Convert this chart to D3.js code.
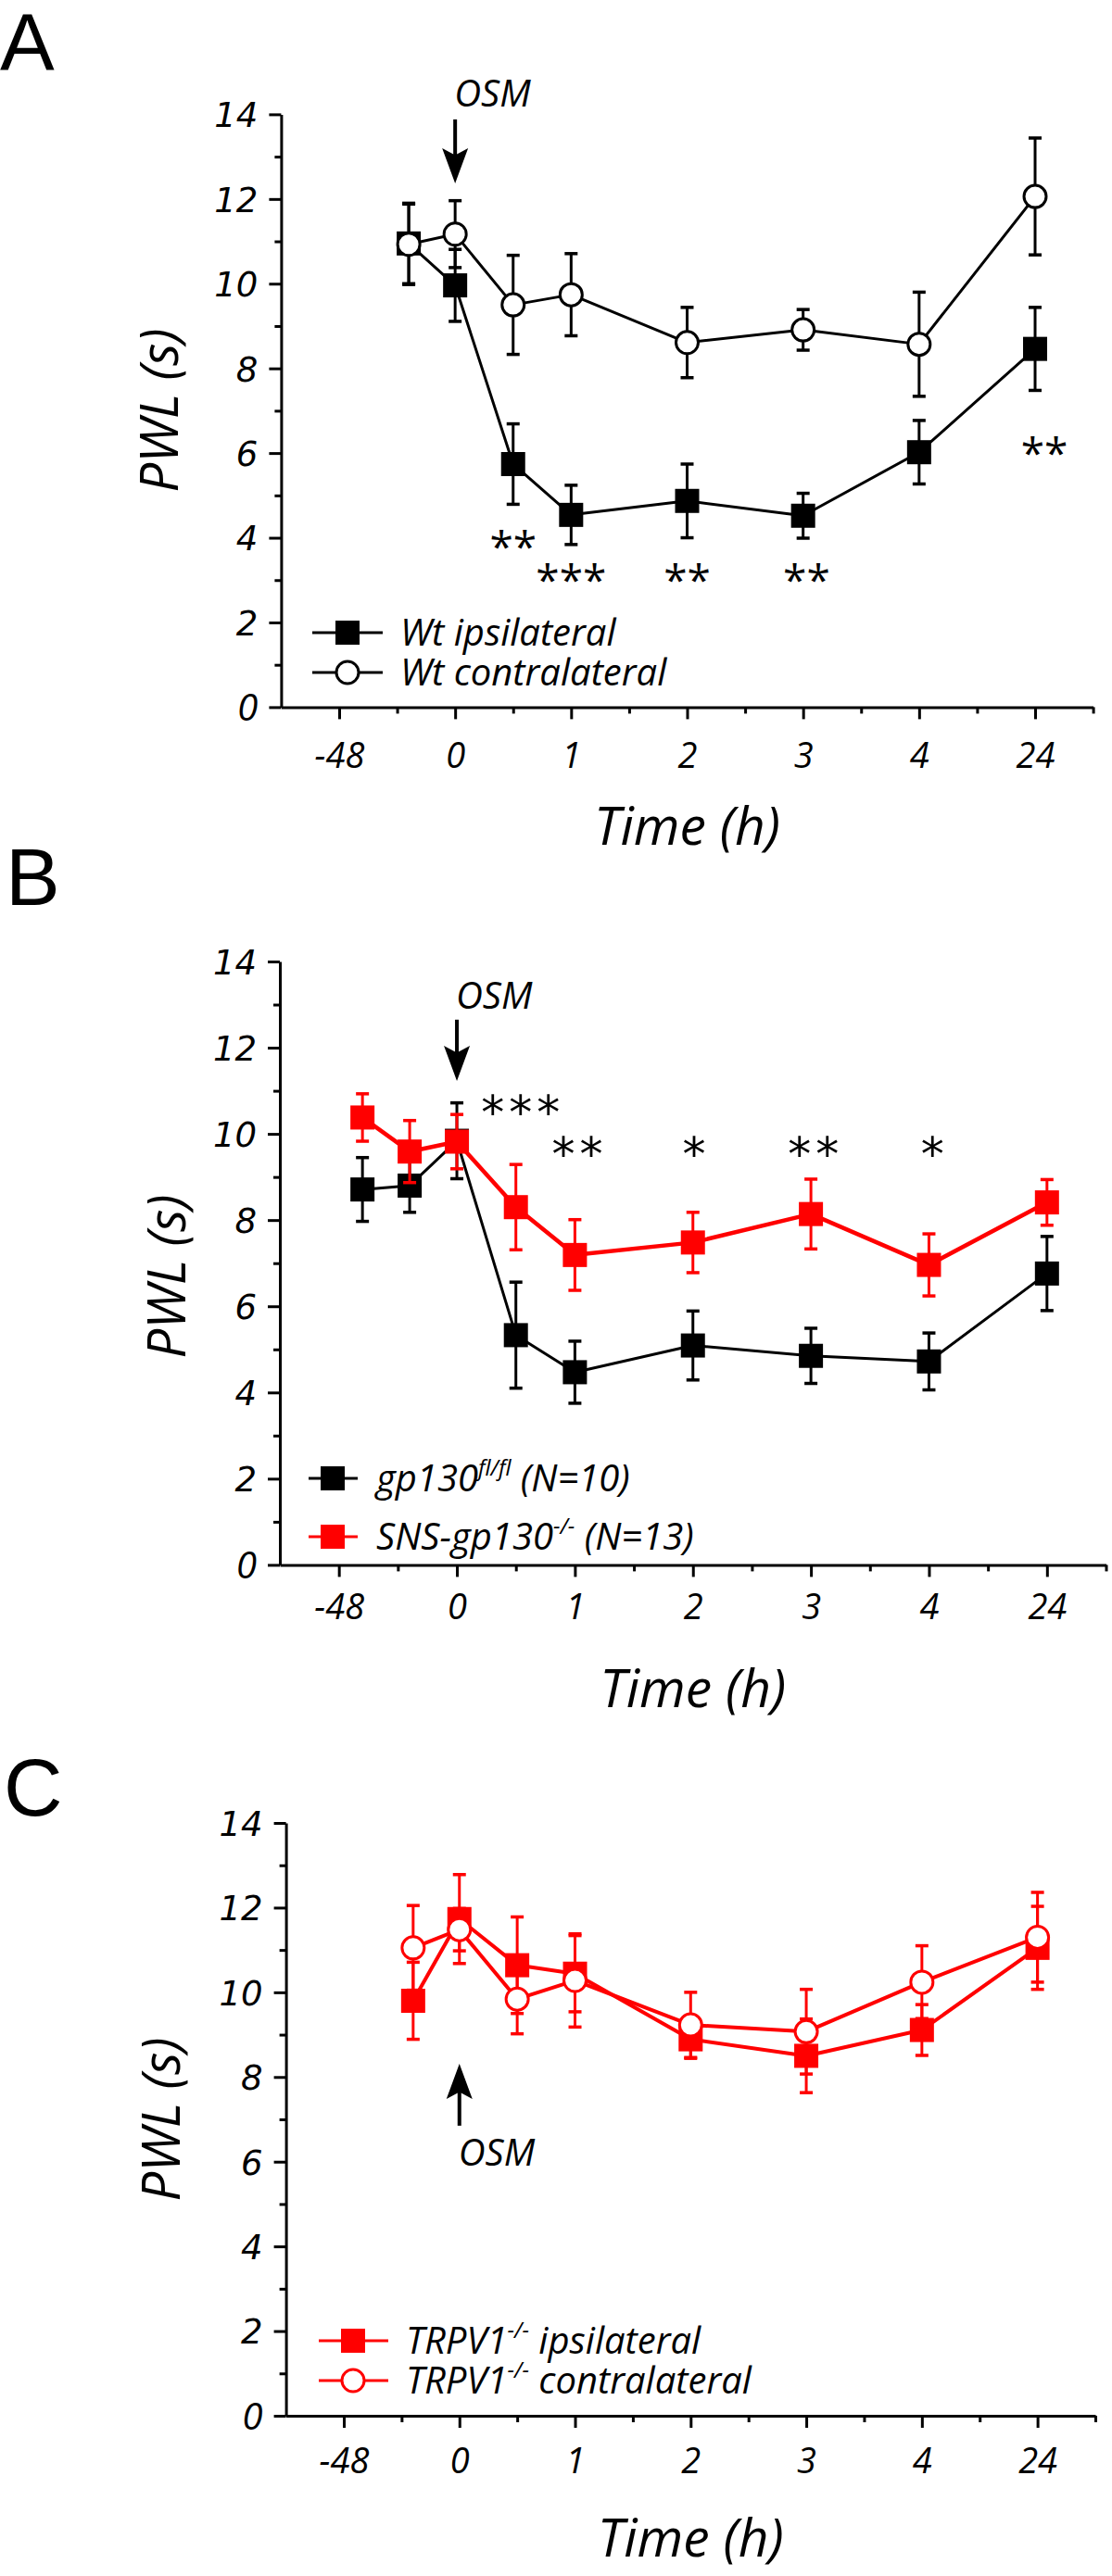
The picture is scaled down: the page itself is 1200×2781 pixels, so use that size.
<!DOCTYPE html>
<html><head><meta charset="utf-8">
<script src="https://cdn.jsdelivr.net/npm/d3@7"></script>
<style>
html,body{margin:0;padding:0;background:#fff;}
svg{display:block;}
</style></head><body>
<svg id="chart" width="1200" height="2781"></svg>
<script>
// ---------- shared axis data ----------
const hourLabels = ["-48", "0", "1", "2", "3", "4", "24"];
const hourTickPos = [-1, 0, 1, 2, 3, 4, 5];
const yTickValues = [0, 2, 4, 6, 8, 10, 12, 14];
const yMinorValues = [1, 3, 5, 7, 9, 11, 13];
const xMinorValues = [-0.5, 0.5, 1.5, 2.5, 3.5, 4.5, 5.5];

// ---------- Panel A ----------
const timeA = [-0.4, 0, 0.5, 1, 2, 3, 4, 5];
const wtIpsiMean = [10.95, 9.96, 5.74, 4.54, 4.87, 4.52, 6.02, 8.46];
const wtIpsiSem = [0.95, 0.85, 0.95, 0.70, 0.87, 0.53, 0.75, 0.98];
const wtContraMean = [10.93, 11.17, 9.50, 9.74, 8.61, 8.91, 8.57, 12.06];
const wtContraSem = [0.95, 0.79, 1.17, 0.97, 0.83, 0.48, 1.23, 1.38];
const starsA = [["**", 0.5, 4.0], ["***", 1, 3.2], ["**", 2, 3.2], ["**", 3.03, 3.2], ["**", 5.08, 6.2]];

// ---------- Panel B ----------
const timeB = [-0.8, -0.4, 0, 0.5, 1, 2, 3, 4, 5];
const gpFlMean = [8.71, 8.80, 9.84, 5.33, 4.47, 5.09, 4.85, 4.72, 6.76];
const gpFlSem = [0.74, 0.62, 0.88, 1.23, 0.72, 0.80, 0.64, 0.66, 0.86];
const snsMean = [10.38, 9.59, 9.82, 8.30, 7.19, 7.48, 8.14, 6.96, 8.41];
const snsSem = [0.55, 0.72, 0.63, 0.99, 0.82, 0.70, 0.81, 0.72, 0.53];
const starsB = [["***", 0.56, 10.74], ["**", 1.04, 9.77], ["*", 2.03, 9.77], ["**", 3.04, 9.77], ["*", 4.05, 9.77]];

// ---------- Panel C ----------
const timeC = [-0.4, 0, 0.5, 1, 2, 3, 4, 5];
const trpIpsiMean = [9.80, 11.73, 10.64, 10.44, 8.89, 8.50, 9.11, 11.05];
const trpIpsiSem = [0.91, 1.05, 1.14, 0.90, 0.45, 0.87, 0.60, 0.98];
const trpContraMean = [11.05, 11.48, 9.84, 10.28, 9.23, 9.07, 10.24, 11.30];
const trpContraSem = [1.00, 0.50, 0.82, 1.10, 0.77, 1.00, 0.86, 1.06];

const RED = "#ff0000";
const BLACK = "#000000";
const TXT = "'Open Sans', 'Liberation Sans', sans-serif";
const svg = d3.select("#chart");

const panels = [
  {
    letter: "A", letterX: 0, letterY: 76,
    left: 303.4, right: 1179.6, top: 123.4, bottom: 763.4,
    series: [
      {time: timeA, mean: wtIpsiMean, sem: wtIpsiSem, color: BLACK, marker: "square", lw: 3},
      {time: timeA, mean: wtContraMean, sem: wtContraSem, color: BLACK, marker: "circle", lw: 3}
    ],
    stars: starsA, starFont: TXT, starSize: 46, starSpacing: 0,
    osm: {tail: 13.88, tip: 12.37, textY: 14.19},
    legend: {rows: [683, 726], x1: 337, x2: 413, mx: 375, tx: 432,
      labels: [[["Wt ipsilateral", false]], [["Wt contralateral", false]]]},
    pwl: [172, 443], timeBase: 912, tickBase: 829
  },
  {
    letter: "B", letterX: 6, letterY: 977,
    left: 302, right: 1193.5, top: 1038, bottom: 1689.4,
    series: [
      {time: timeB, mean: gpFlMean, sem: gpFlSem, color: BLACK, marker: "square", lw: 3},
      {time: timeB, mean: snsMean, sem: snsSem, color: RED, marker: "square", lw: 4.5}
    ],
    stars: starsB, starFont: "'DejaVu Sans', sans-serif", starSize: 50, starSpacing: 5,
    osm: {tail: 12.65, tip: 11.23, textY: 12.91},
    legend: {rows: [1596, 1659], x1: 333, x2: 386, mx: 359, tx: 406,
      labels: [[["gp130", false], ["fl/fl", true], [" (N=10)", false]],
               [["SNS-gp130", false], ["-/-", true], [" (N=13)", false]]]},
    pwl: [180, 1378], timeBase: 1843, tickBase: 1748
  },
  {
    letter: "C", letterX: 4, letterY: 1960,
    left: 308.6, right: 1182, top: 1968, bottom: 2608,
    series: [
      {time: timeC, mean: trpIpsiMean, sem: trpIpsiSem, color: RED, marker: "square", lw: 4},
      {time: timeC, mean: trpContraMean, sem: trpContraSem, color: RED, marker: "circle", lw: 4}
    ],
    stars: [], starFont: TXT, starSize: 44, starSpacing: 0,
    osm: {tail: 6.85, tip: 8.31, textY: 5.91},
    legend: {rows: [2527, 2570], x1: 344, x2: 419, mx: 381, tx: 438,
      labels: [[["TRPV1", false], ["-/-", true], [" ipsilateral", false]],
               [["TRPV1", false], ["-/-", true], [" contralateral", false]]]},
    pwl: [174, 2288], timeBase: 2760, tickBase: 2670
  }
];

function drawMarker(g, type, cx, cy, color, size) {
  if (type === "square") {
    g.append("rect").attr("x", cx - size / 2).attr("y", cy - size / 2)
      .attr("width", size).attr("height", size).attr("fill", color);
  } else {
    g.append("circle").attr("cx", cx).attr("cy", cy).attr("r", size / 2 - 1)
      .attr("fill", "#fff").attr("stroke", color).attr("stroke-width", 3);
  }
}

function drawPanel(p) {
  const g = svg.append("g");
  const x = d3.scaleLinear().domain([-1.5, 5.5]).range([p.left, p.right]);
  const y = d3.scaleLinear().domain([0, 14]).range([p.bottom, p.top]);

  g.append("text").attr("x", p.letterX).attr("y", p.letterY).text(p.letter)
    .attr("font-family", "'Liberation Sans', Arial, sans-serif").attr("font-size", 88).attr("fill", "#000");

  // y axis
  const ya = g.append("g").attr("transform", `translate(${p.left},0)`)
    .call(d3.axisLeft(y).tickValues(yTickValues).tickSize(13).tickSizeOuter(0).tickPadding(12));
  g.append("g").attr("transform", `translate(${p.left},0)`)
    .call(d3.axisLeft(y).tickValues(yMinorValues).tickSize(7).tickSizeOuter(0).tickFormat(""))
    .call(a => a.selectAll("text").remove())
    .select(".domain").remove();
  ya.selectAll("text")
    .attr("font-family", d => d === 0 ? TXT : "'DejaVu Sans', sans-serif")
    .attr("font-style", "italic")
    .attr("font-size", d => d === 0 ? 40 : 37)
    .attr("dy", "0.36em");

  // x axis
  const xa = g.append("g").attr("transform", `translate(0,${p.bottom})`)
    .call(d3.axisBottom(x).tickValues(hourTickPos).tickFormat((d, i) => hourLabels[i])
      .tickSize(13).tickSizeOuter(0));
  g.append("g").attr("transform", `translate(0,${p.bottom})`)
    .call(d3.axisBottom(x).tickValues(xMinorValues).tickSize(7).tickSizeOuter(0).tickFormat(""))
    .call(a => a.selectAll("text").remove())
    .select(".domain").remove();
  xa.selectAll("text")
    .attr("font-family", TXT).attr("font-style", "italic").attr("font-size", 38)
    .attr("y", p.tickBase - p.bottom).attr("dy", 0);

  g.selectAll(".domain").attr("stroke", "#000").attr("stroke-width", 3);
  g.selectAll(".tick line").attr("stroke", "#000").attr("stroke-width", 3);
  g.selectAll(".tick text").attr("fill", "#000");

  // axis titles
  g.append("text").attr("transform", `translate(${p.pwl[0]},${p.pwl[1]}) rotate(-90)`)
    .attr("text-anchor", "middle").attr("dy", "0.36em")
    .attr("font-family", TXT).attr("font-style", "italic").attr("font-size", 56).text("PWL (s)");
  g.append("text").attr("x", (x(-1.5) + x(5.5)) / 2).attr("y", p.timeBase)
    .attr("text-anchor", "middle")
    .attr("font-family", TXT).attr("font-style", "italic").attr("font-size", 57).text("Time (h)");

  // OSM arrow
  const ax = x(0);
  const yTail = y(p.osm.tail), yTip = y(p.osm.tip);
  const dir = yTip > yTail ? 1 : -1;
  const headLen = 38, headW = 14;
  g.append("line").attr("x1", ax).attr("x2", ax).attr("y1", yTail).attr("y2", yTip - dir * headLen * 0.6)
    .attr("stroke", "#000").attr("stroke-width", 4);
  g.append("path").attr("d", `M${ax},${yTip} L${ax - headW},${yTip - dir * headLen} L${ax},${yTip - dir * headLen * 0.8} L${ax + headW},${yTip - dir * headLen} Z`)
    .attr("fill", "#000");
  g.append("text").attr("x", ax - 1).attr("y", y(p.osm.textY))
    .attr("font-family", TXT).attr("font-style", "italic").attr("font-size", 40).text("OSM");

  // series
  p.series.forEach(s => {
    const pts = s.time.map((t, i) => [x(t), y(s.mean[i]), y(s.mean[i] - s.sem[i]), y(s.mean[i] + s.sem[i])]);
    g.append("path").attr("d", d3.line()(pts.map(d => [d[0], d[1]])))
      .attr("fill", "none").attr("stroke", s.color).attr("stroke-width", s.lw).attr("stroke-linejoin", "round");
    pts.forEach(d => {
      g.append("line").attr("x1", d[0]).attr("x2", d[0]).attr("y1", d[2]).attr("y2", d[3])
        .attr("stroke", s.color).attr("stroke-width", 3);
      [d[2], d[3]].forEach(yy => g.append("line").attr("x1", d[0] - 7).attr("x2", d[0] + 7)
        .attr("y1", yy).attr("y2", yy).attr("stroke", s.color).attr("stroke-width", 3.5));
    });
    pts.forEach(d => drawMarker(g, s.marker, d[0], d[1], s.color, 26));
  });

  // significance stars
  p.stars.forEach(([t, sx, sy]) => {
    g.append("text").attr("x", x(sx)).attr("y", y(sy) + 0.57 * p.starSize)
      .attr("text-anchor", "middle").attr("font-family", p.starFont)
      .attr("font-size", p.starSize).attr("letter-spacing", p.starSpacing).text(t);
  });

  // legend
  const L = p.legend;
  p.series.forEach((s, i) => {
    const ry = L.rows[i];
    g.append("line").attr("x1", L.x1).attr("x2", L.x2).attr("y1", ry).attr("y2", ry)
      .attr("stroke", s.color).attr("stroke-width", 3);
    drawMarker(g, s.marker, L.mx, ry, s.color, 26);
    const t = g.append("text").attr("x", L.tx).attr("y", ry + 14)
      .attr("font-family", TXT).attr("font-style", "italic").attr("font-size", 40).attr("fill", "#000");
    let raised = false;
    L.labels[i].forEach(([str, sup]) => {
      const ts = t.append("tspan").text(str);
      if (sup && !raised) { ts.attr("dy", -17).attr("font-size", 24); raised = true; }
      else if (!sup && raised) { ts.attr("dy", 17); raised = false; }
    });
  });
}

panels.forEach(drawPanel);
</script>
</body></html>
